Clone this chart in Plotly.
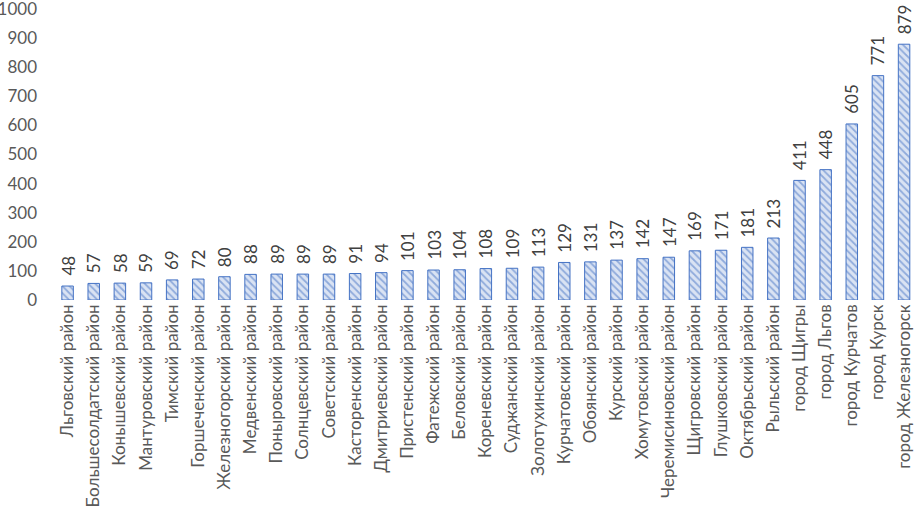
import plotly.graph_objects as go

categories = ["Льговский район", "Большесолдатский район", "Конышевский район", "Мантуровский район",
              "Тимский район", "Горшеченский район", "Железногорский район", "Медвенский район",
              "Поныровский район", "Солнцевский район", "Советский район", "Касторенский район",
              "Дмитриевский район", "Пристенский район", "Фатежский район", "Беловский район",
              "Кореневский район", "Суджанский район", "Золотухинский район", "Курчатовский район",
              "Обоянский район", "Курский район", "Хомутовский район", "Черемисиновский район",
              "Щигровский район", "Глушковский район", "Октябрьский район", "Рыльский район",
              "город Щигры", "город Льгов", "город Курчатов", "город Курск", "город Железногорск"]
values = [48, 57, 58, 59, 69, 72, 80, 88, 89, 89, 89, 91, 94, 101, 103, 104, 108, 109, 113, 129,
          131, 137, 142, 147, 169, 171, 181, 213, 411, 448, 605, 771, 879]
y_ticks = list(range(0, 1001, 100))

FONT = "Lato, 'Open Sans', sans-serif"
GREY = "#595959"

fig = go.Figure(go.Bar(
    x=categories, y=values,
    cliponaxis=False,
    marker=dict(color="white", line=dict(color="#4472C4", width=1),
                pattern=dict(shape="\\", fgcolor="#4472C4", bgcolor="#DAE3F3", size=5, solidity=0.35)),
    width=0.44,
))
for c, v in zip(categories, values):
    fig.add_annotation(x=c, y=v, text=str(v), textangle=-90, showarrow=False,
                       xanchor="center", yanchor="bottom", yshift=8,
                       font=dict(family=FONT, size=17, color="#404040"))
fig.update_layout(
    width=914, height=516,
    margin=dict(l=54, r=0, t=9, b=216),
    paper_bgcolor="white", plot_bgcolor="white",
    showlegend=False,
    font=dict(family=FONT, size=17, color=GREY),
    xaxis=dict(tickangle=-90, showgrid=False, showline=False, ticks="", automargin=False,
               range=[-0.52, 32.38], tickfont=dict(size=17, color=GREY)),
    yaxis=dict(range=[0, 1000], tickvals=y_ticks, showgrid=False, zeroline=False, showline=False,
               automargin=False, ticks="", tickfont=dict(size=17, color=GREY), ticklabelstandoff=16,
               ticklabeloverflow="allow"),
)
fig.write_html("out.html", config={"displayModeBar": False},
               post_script="document.body.style.margin='0';document.body.style.overflow='hidden';")
